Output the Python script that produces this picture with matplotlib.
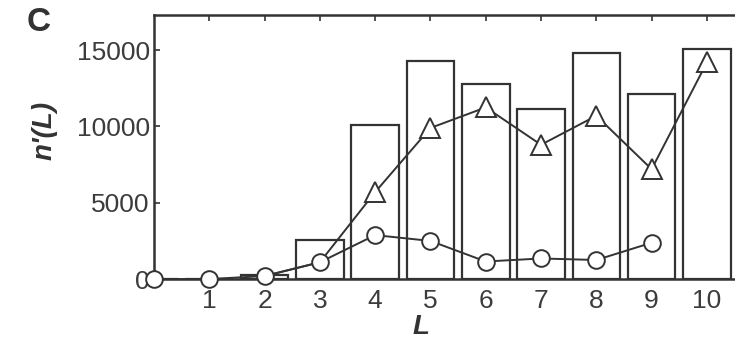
import matplotlib.pyplot as plt

plt.rcParams['font.family'] = ['Liberation Sans', 'DejaVu Sans']

L = [0, 1, 2, 3, 4, 5, 6, 7, 8, 9, 10]
bars = [0, 0, 250, 2550, 10100, 14300, 12800, 11150, 14800, 12100, 15100]
tri_L = [2, 3, 4, 5, 6, 7, 8, 9, 10]
tri = [200, 1100, 5700, 9900, 11250, 8800, 10700, 7200, 14200]
circ_L = [0, 1, 2, 3, 4, 5, 6, 7, 8, 9]
circ = [0, 0, 200, 1100, 2880, 2500, 1150, 1350, 1250, 2380]

ink = '#333333'

fig = plt.figure(figsize=(7.35, 3.42), dpi=100)
ax = fig.add_axes([0.2095, 0.184, 0.82, 0.772])

ax.bar(L, bars, width=0.86, facecolor='white', edgecolor=ink, linewidth=1.6, zorder=1)
# first two triangles sit under the circles
ax.plot(tri_L, tri, color=ink, lw=1.4, marker='^', markersize=14, markerfacecolor='white',
        markeredgecolor=ink, markeredgewidth=1.4, zorder=3, clip_on=False,
        markevery=list(range(2, len(tri))))
ax.plot(circ_L, circ, color=ink, lw=1.4, marker='o', markersize=12, markerfacecolor='white',
        markeredgecolor=ink, markeredgewidth=1.4, zorder=4, clip_on=False)

ax.set_xlim(0, 10.9)
ax.set_ylim(0, 17300)
ax.set_xticks(range(1, 11))
ax.set_yticks([0, 5000, 10000, 15000])
ax.tick_params(axis='both', direction='in', colors=ink, labelsize=19, length=4, width=1.2,
               labelcolor='#3c3c3c')
ax.tick_params(axis='x', top=True, bottom=False, pad=7)
ax.tick_params(axis='y', pad=3)

for s in ['left', 'top', 'bottom']:
    ax.spines[s].set_color(ink)
    ax.spines[s].set_linewidth(1.8)
ax.spines['right'].set_visible(False)

fig.text(0.06, 0.62, "n'(L)", rotation=90, ha='center', va='center', fontsize=20,
         fontstyle='italic', fontweight='bold', color=ink)
fig.text(0.573, 0.005, 'L', ha='center', va='bottom', fontsize=20, fontstyle='italic',
         fontweight='bold', color=ink)
fig.text(0.036, 0.935, 'C', ha='left', va='center', fontsize=24, fontweight='bold', color=ink)

fig.savefig('out.png', dpi=100)
